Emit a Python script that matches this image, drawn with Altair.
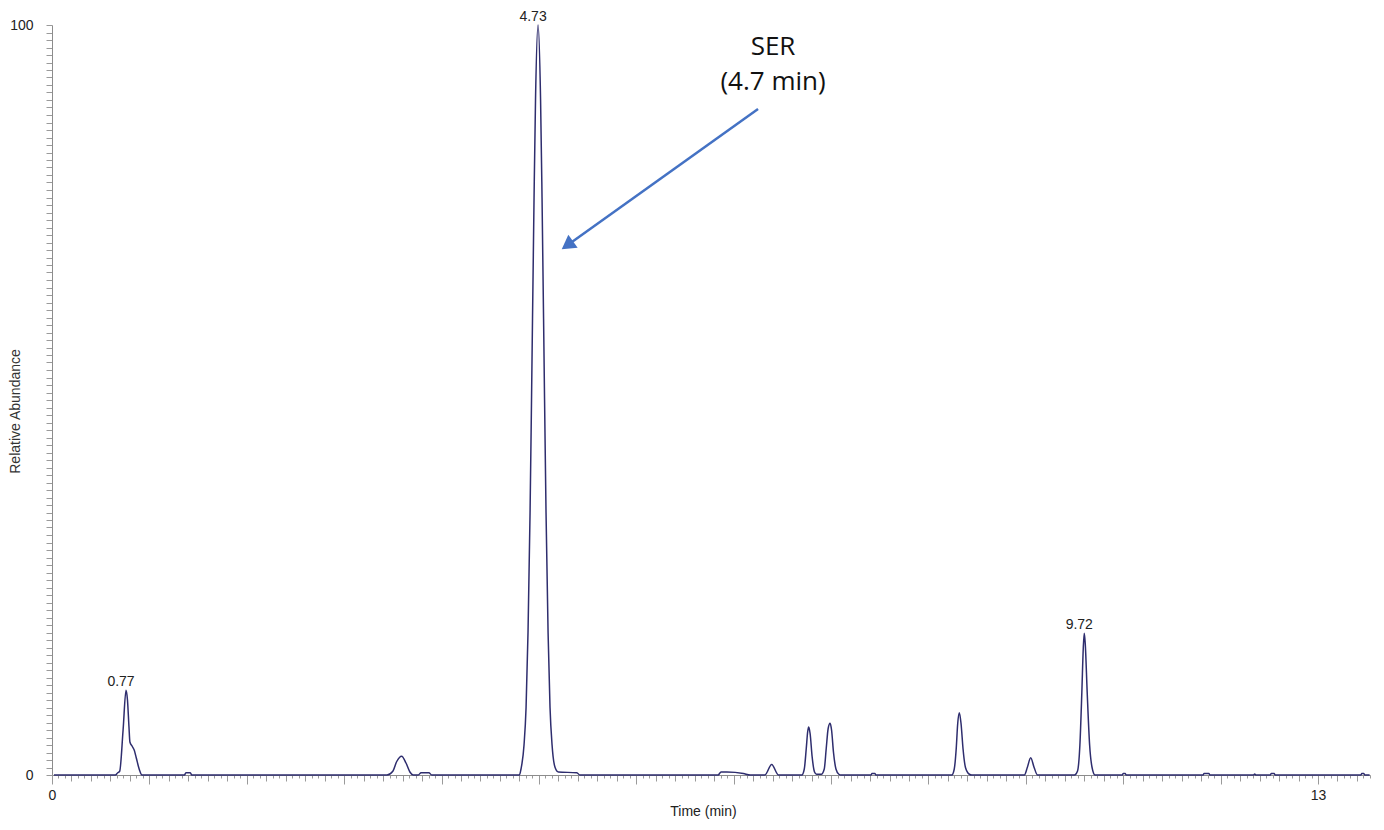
import altair as alt
import pandas as pd

# ---- trace (time in min, relative abundance) ----
time_min = [
    0.02, 0.65, 0.675, 0.695, 0.73, 0.76, 0.775, 0.79, 0.80, 0.825, 0.845, 0.865, 0.895, 0.925,
    1.36, 1.375, 1.42, 1.435,
    3.44, 3.50, 3.54, 3.59, 3.635, 3.675, 3.71,
    3.76, 3.79, 3.87, 3.90,
    4.80, 4.816, 4.847, 4.868, 4.888, 4.909, 4.924, 4.950, 4.965, 4.991, 5.017, 5.032, 5.058,
    5.073, 5.094, 5.114, 5.135, 5.166, 5.20, 5.39, 5.42,
    6.84, 6.87, 6.93, 7.10, 7.17,
    7.32, 7.39, 7.46,
    7.70, 7.725, 7.745, 7.76, 7.77, 7.785, 7.805, 7.83, 7.85,
    7.90, 7.93, 7.95, 7.97, 7.99, 8.005, 8.025, 8.05, 8.08, 8.10,
    8.41, 8.42, 8.45, 8.46,
    9.24, 9.265, 9.285, 9.30, 9.317, 9.335, 9.355, 9.38, 9.42, 9.445,
    9.985, 10.015, 10.05, 10.085, 10.12,
    10.50, 10.53, 10.555, 10.575, 10.59, 10.60, 10.61, 10.63, 10.655, 10.68, 10.71,
    10.99, 11.00, 11.02, 11.03,
    11.82, 11.83, 11.88, 11.89,
    12.34, 12.35, 12.36,
    12.51, 12.52, 12.55, 12.56,
    13.44, 13.45, 13.47, 13.48, 13.53,
]
intensity = [
    0, 0, 0.3, 0.5, 6, 11.3, 10, 6.5, 4.4, 3.8, 3.3, 2.3, 0.8, 0,
    0, 0.3, 0.3, 0,
    0, 0.5, 1.8, 2.5, 1.6, 0.4, 0,
    0, 0.3, 0.3, 0,
    0, 0.8, 4, 9, 19, 35, 50, 77, 90, 100, 90, 77, 50,
    35, 19, 9, 4, 1, 0.4, 0.3, 0,
    0, 0.4, 0.4, 0.2, 0,
    0, 1.4, 0,
    0, 0.8, 3.5, 5.8, 6.4, 5.5, 2.5, 0.4, 0.1,
    0.1, 0.8, 3.5, 6.2, 6.9, 6.0, 3.0, 0.8, 0.1, 0,
    0, 0.2, 0.2, 0,
    0, 0.8, 3.5, 6.8, 8.3, 6.8, 3.5, 1.0, 0.1, 0,
    0, 1.0, 2.3, 1.0, 0,
    0, 0.5, 4, 11, 17, 18.9, 17.5, 11, 4, 1, 0,
    0, 0.2, 0.2, 0,
    0, 0.2, 0.2, 0,
    0, 0.15, 0,
    0, 0.2, 0.2, 0,
    0, 0.2, 0.2, 0, 0,
]

# ---- labelled peaks ----
peak_text = ["0.77", "4.73", "9.72"]
peak_time = [0.76, 4.991, 10.60]
peak_height = [11.3, 100, 18.9]

# ---- annotation ----
note_lines = ["SER", "(4.7 min)"]
note_time = [7.404, 7.404]
note_level = [97.1, 92.4]
arrow_from = (7.250, 88.8)
arrow_to = (5.292, 70.64)

X_MAX = 13.534
x_ticks = [k / 15 for k in range(0, 204)]
y_ticks = list(range(0, 101))

trace = pd.DataFrame({"t": time_min, "v": intensity})
peaks = pd.DataFrame({"t": peak_time, "v": peak_height, "label": peak_text})
notes = pd.DataFrame({"t": note_time, "v": note_level, "label": note_lines})
arrow = pd.DataFrame({"t": [arrow_from[0]], "v": [arrow_from[1]],
                      "t2": [arrow_to[0]], "v2": [arrow_to[1]]})

xs = alt.Scale(domain=[0, X_MAX], nice=False, zero=False)
ys = alt.Scale(domain=[0, 100], nice=False, zero=False)

FONT = "Liberation Sans"

x_axis = alt.Axis(
    values=x_ticks,
    tickCount=1000,
    title="Time (min)",
    titleFont=FONT, titleFontSize=14, titleFontWeight="normal", titleColor="#222222",
    titleX=651, titleY=36, titleAlign="center", titleBaseline="middle",
    labelExpr="(abs(datum.value) < 0.001 || abs(datum.value - 13) < 0.001) ? format(datum.value, 'd') : ''",
    labelOverlap=False, labelFlush=False,
    labelFont=FONT, labelFontSize=14, labelColor="#222222", labelPadding=4,
    tickSize={"condition": [
        {"test": "abs(datum.value - round(datum.value)) < 0.001", "value": 9},
        {"test": "abs(datum.value * 5 - round(datum.value * 5)) < 0.001", "value": 6},
    ], "value": 3},
    tickColor="#9a9a9a", tickWidth=1,
    domainColor="#8c8c8c", domainWidth=1,
    grid=False,
)

y_axis = alt.Axis(
    values=y_ticks,
    tickCount=1000,
    title="Relative Abundance",
    titleFont=FONT, titleFontSize=14, titleFontWeight="normal", titleColor="#333333",
    titleX=-37, titleY=386, titleAngle=270, titleAlign="center", titleBaseline="middle",
    labelExpr="(datum.value == 0 || datum.value == 100) ? format(datum.value, 'd') : ''",
    labelOverlap=False, labelFlush=False,
    labelFont=FONT, labelFontSize=14, labelColor="#222222", labelPadding=13,
    tickSize=6, tickColor="#9a9a9a", tickWidth=1,
    domainColor="#8c8c8c", domainWidth=1,
    grid=False,
)

line = alt.Chart(trace).mark_line(color="#2e2d6e", strokeWidth=1.5, interpolate="monotone").encode(
    x=alt.X("t:Q", scale=xs, axis=x_axis),
    y=alt.Y("v:Q", scale=ys, axis=y_axis),
)

peak_labels = alt.Chart(peaks).mark_text(
    font=FONT, fontSize=14, color="#222222", baseline="middle", align="center", dx=-5, dy=-8
).encode(
    x=alt.X("t:Q", scale=xs),
    y=alt.Y("v:Q", scale=ys),
    text="label:N",
)

note_text = alt.Chart(notes).mark_text(
    font="Open Sans", fontSize=26, color="#111111", baseline="middle", align="center"
).encode(
    x=alt.X("t:Q", scale=xs),
    y=alt.Y("v:Q", scale=ys),
    text="label:N",
)

arrow_line = alt.Chart(arrow).mark_rule(color="#4472c4", strokeWidth=2.5).encode(
    x=alt.X("t:Q", scale=xs),
    y=alt.Y("v:Q", scale=ys),
    x2="t2:Q",
    y2="v2:Q",
)

arrow_head = alt.Chart(arrow).mark_point(
    shape="triangle-up", size=256, filled=True, color="#4472c4", opacity=1, angle=234.5
).encode(
    x=alt.X("t2:Q", scale=xs),
    y=alt.Y("v2:Q", scale=ys),
)

chart = alt.layer(line, peak_labels, note_text, arrow_line, arrow_head).properties(
    width=1318,
    height=750,
    autosize=alt.AutoSizeParams(type="none"),
    padding={"left": 44, "top": 17, "right": 6, "bottom": 45},
    background="white",
).configure_view(stroke=None)

chart.save("out.html", embed_options={"renderer": "svg", "actions": False})
